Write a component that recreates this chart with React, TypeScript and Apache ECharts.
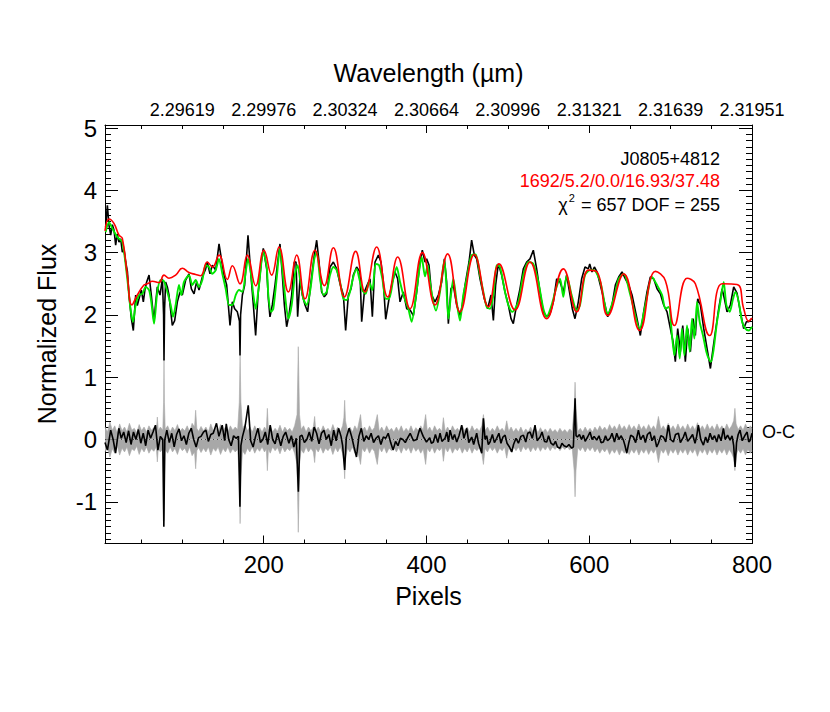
import React, { useEffect, useRef } from "react";
import * as echarts from "echarts";

const FONT = "'Liberation Sans', Arial, Helvetica, sans-serif";

// Axis tick labels
const pixelLabels = [200, 400, 600, 800];
const wavelengthPixels = [100, 200, 300, 400, 500, 600, 700, 800];
const wavelengthLabels = ["2.29619", "2.29976", "2.30324", "2.30664", "2.30996", "2.31321", "2.31639", "2.31951"];
const fluxLabels = [-1, 0, 1, 2, 3, 4, 5];

// Observed spectrum (black) [pixel, normalized flux]
const observed: [number, number][] = [
  [5.8, 3.41], [7.9, 3.76], [9.9, 3.44], [12, 3.28], [14, 3.45], [16.1, 3.36], [18.1, 3.12], [20, 3.3], [22.2, 3.17], [24.3, 3.22],
  [26.3, 3.01], [28.4, 3.05], [30.4, 2.85], [32.5, 2.7], [34.5, 2.32], [37.4, 1.94], [39.8, 1.75], [42.7, 2.32], [44.7, 2.15], [46.8, 2.26],
  [49.6, 2.4], [52.1, 2.21], [54, 2.4], [56.2, 2.53], [59.1, 2.64], [61.9, 2.32], [65.2, 1.89], [67.3, 2.2], [69.3, 2.45], [72.6, 2.32],
  [75.5, 2.58], [77, 2.0], [77.5, 1.27], [78.2, 2.1], [79.5, 2.53], [81.6, 2.45], [83.6, 2.32], [87.7, 1.83], [90.6, 1.91], [93.9, 2.21],
  [97.2, 2.37], [100, 2.32], [104.1, 2.56], [108.2, 2.66], [111.1, 2.42], [114.4, 2.34], [117.6, 2.53], [120.5, 2.4], [124.6, 2.61], [128.7, 2.74],
  [130.7, 2.85], [134, 2.66], [136.9, 2.8], [141, 2.72], [145.1, 3.14], [148, 2.9], [151.2, 2.64], [154.5, 2.48], [158.6, 1.83], [161.5, 2.21],
  [164.3, 2.1], [167.6, 2.05], [170.2, 1.9], [170.9, 1.35], [171.6, 2.0], [173.8, 2.32], [176.6, 2.48], [180.7, 3.28], [184, 2.69], [187.3, 2.16],
  [190.1, 1.67], [193, 2.32], [197.1, 2.85], [199.5, 3.07], [203.7, 2.74], [205.7, 2.26], [207.7, 1.97], [210.6, 2.16], [213.9, 2.48], [217.2, 2.85],
  [220, 3.14], [222.9, 2.64], [225.4, 2.16], [228.2, 1.81], [231.1, 2.0], [234.4, 2.32], [237.6, 2.85], [239.7, 2.85], [241.7, 1.97], [244.6, 2.58],
  [247.5, 2.32], [250.8, 2.16], [254, 2.05], [258.1, 2.53], [262.2, 2.96], [265.1, 3.2], [268, 2.85], [271.2, 2.37], [274.5, 2.29], [277.4, 2.34],
  [281.5, 2.77], [285.6, 2.85], [289.7, 2.74], [293.8, 2.5], [297.9, 2.32], [300.7, 1.75], [304, 2.32], [307.3, 2.42], [310.1, 2.64], [314.2, 2.77],
  [318.3, 2.69], [320.4, 1.89], [323.7, 2.37], [327.8, 2.5], [330.6, 2.58], [333.5, 1.97], [336.8, 2.85], [340.9, 2.96], [344.1, 2.85], [347, 2.53],
  [349.9, 1.93], [354, 2.26], [357.2, 2.48], [361.3, 2.69], [364.6, 2.58], [367.5, 2.21], [371.6, 2.37], [375.7, 2.1], [379.8, 2.08], [383.9, 1.99],
  [388, 2.37], [392.1, 2.85], [394.9, 3.04], [398.2, 2.85], [400.2, 2.9], [403.1, 2.8], [406.4, 2.32], [410.5, 2.21], [414.6, 2.32], [418.7, 2.53],
  [422, 2.9], [424.8, 2.53], [426.9, 1.86], [430.1, 2.42], [433, 2.48], [437.1, 2.16], [441.2, 1.99], [444.1, 2.16], [447.4, 2.48], [452.3, 2.85],
  [455.5, 3.2], [458.8, 2.96], [461.7, 2.9], [465.8, 2.58], [471.1, 2.26], [475.2, 2.1], [479.3, 2.32], [482.2, 1.91], [485, 2.48], [488.3, 2.82],
  [492.4, 2.64], [496.5, 2.37], [500.6, 2.16], [503.9, 1.94], [506.7, 1.86], [510.8, 2.16], [514.9, 2.42], [519, 2.74], [523.1, 2.85], [527.2, 2.9],
  [531.3, 3.04], [535.4, 2.74], [539.5, 2.37], [543.6, 2.05], [547.7, 1.97], [551.8, 2.02], [555.9, 2.21], [560, 2.58], [564.1, 2.53], [568.2, 2.37],
  [572.3, 2.64], [576.4, 2.32], [579.2, 2.1], [582.5, 1.94], [586.6, 2.21], [590.7, 2.58], [594.8, 2.77], [598.9, 2.74], [600.6, 2.82], [603.4, 2.69],
  [606.3, 2.77], [609.6, 2.69], [615.7, 2.37], [622.7, 1.97], [628, 2.16], [632.1, 2.48], [636.2, 2.61], [640.3, 2.69], [644.4, 2.58], [648.5, 2.48],
  [652.6, 2.32], [658.7, 1.94], [662.8, 1.67], [666.9, 2.05], [671, 2.37], [675.1, 2.61], [679.2, 2.58], [683.3, 2.42], [687.4, 2.34], [691.5, 2.16],
  [695.6, 2.05], [699.7, 1.78], [703, 1.57], [705.8, 1.25], [708.7, 1.78], [712, 1.41], [714.9, 1.83], [718.1, 1.25], [721, 1.78], [724.3, 1.41],
  [727.6, 1.94], [730.4, 1.67], [733.3, 2.26], [736.6, 2.16], [740.7, 1.78], [744.8, 1.46], [748.9, 1.14], [752.1, 1.46], [755, 1.73], [759.1, 2.1],
  [763.2, 2.42], [766.1, 2.26], [769.3, 2.05], [773.4, 2.16], [777.5, 2.45], [781.6, 2.35], [785.7, 2.05], [789.8, 1.78], [793.1, 1.89], [796, 1.89],
  [799.2, 1.94]
];

// Full model (green)
const modelGreen: [number, number][] = [
  [5.8, 3.33], [9.9, 3.49], [14, 3.39], [20.2, 3.25], [26.3, 3.17], [32.4, 2.58], [36.5, 2.08], [39.4, 1.89], [42.7, 2.16], [46.8, 2.32],
  [50.9, 2.34], [55, 2.45], [59.1, 2.4], [62, 2.2], [65.2, 1.86], [69.3, 2.37], [73.4, 2.56], [77.5, 2.54], [81.6, 2.37], [85.7, 2.16],
  [88.6, 1.97], [91.8, 2.16], [95.9, 2.48], [98.8, 2.32], [102.1, 2.53], [108.2, 2.64], [112.3, 2.48], [116.4, 2.56], [120.5, 2.45], [124.6, 2.56],
  [128.7, 2.8], [132.8, 2.77], [136.9, 2.66], [141, 2.72], [145.1, 2.9], [149.2, 2.66], [153.3, 2.42], [157.4, 2.16], [161.5, 2.16], [165.6, 2.32],
  [169.7, 2.4], [173.8, 2.37], [177.9, 2.69], [180.7, 2.9], [184, 2.69], [187.3, 2.32], [190.1, 2.1], [194.2, 2.48], [199.5, 3.01], [203.7, 2.77],
  [205.7, 2.32], [209, 2.05], [211.8, 2.1], [215.9, 2.58], [220, 3.07], [222.9, 2.74], [226.2, 2.32], [230.3, 1.94], [234.4, 2.16], [238.5, 2.66],
  [241.7, 2.8], [244.6, 2.58], [248.7, 2.26], [252.8, 2.16], [256.9, 2.37], [262.2, 2.9], [265.1, 3.01], [269.2, 2.58], [273.3, 2.32], [277.4, 2.37],
  [281.5, 2.64], [285.6, 2.77], [289.7, 2.72], [293.8, 2.53], [297.9, 2.26], [302, 2.24], [306, 2.37], [310.1, 2.61], [314.2, 2.74], [317.5, 2.58],
  [321.2, 2.4], [325.3, 2.34], [329.4, 2.53], [333.5, 2.4], [337.6, 2.82], [341.7, 2.8], [345.8, 2.58], [349.9, 2.26], [354, 2.26], [359.3, 2.58],
  [363.4, 2.77], [367.5, 2.53], [371.6, 2.32], [377.7, 2.1], [381.8, 1.89], [386.7, 2.26], [390.8, 2.69], [394.1, 2.93], [398.2, 2.62], [401.5, 2.8],
  [404.3, 2.53], [408.4, 2.21], [411.7, 2.07], [416.6, 2.37], [422, 2.88], [424, 2.58], [426.9, 1.94], [430.1, 2.32], [433, 2.58], [437.1, 2.21],
  [441.2, 1.91], [445.3, 2.32], [449.4, 2.58], [455.5, 2.96], [460.5, 2.97], [465.8, 2.64], [469.9, 2.37], [474, 2.13], [478.1, 2.1], [482.2, 2.32],
  [486.3, 2.8], [490.4, 2.77], [496.5, 2.37], [500.6, 2.16], [505.5, 2.05], [512.9, 2.21], [519, 2.64], [525.2, 2.85], [531.3, 2.82], [537.5, 2.53],
  [543.6, 2.1], [547.7, 1.97], [553.8, 2.16], [559.2, 2.42], [564.1, 2.58], [568.2, 2.29], [572.3, 2.64], [578.4, 2.32], [584.6, 2.07], [588.7, 2.16],
  [594.8, 2.64], [600.9, 2.72], [605.5, 2.72], [613.7, 2.53], [622.7, 2.02], [630.1, 2.26], [636.2, 2.58], [642.4, 2.66], [650.5, 2.32], [662, 1.78],
  [669, 2.16], [677.2, 2.61], [683.3, 2.48], [689.5, 2.32], [693.6, 2.1], [697.7, 2.13], [701.7, 1.67], [704.6, 1.35], [707.9, 1.67], [711.2, 1.3],
  [714, 1.78], [716.9, 1.35], [720.2, 1.83], [723.5, 1.41], [726.3, 1.94], [729.2, 1.62], [732.5, 2.21], [735.7, 1.89], [739.8, 1.67], [743.9, 1.41],
  [746.8, 1.3], [749.7, 1.25], [753, 1.46], [757, 1.89], [761.1, 2.21], [765.2, 2.53], [768.5, 2.16], [772.6, 2.05], [776.7, 2.26], [779.6, 2.37],
  [783.7, 2.21], [787.8, 1.89], [791.9, 1.78], [796, 1.75], [800, 1.81]
];

// Fit model (red)
const modelRed: [number, number][] = [
  [5, 3.35], [9.9, 3.54], [16, 3.47], [22.2, 3.28], [26.3, 3.23], [32.4, 2.64], [38, 2.16], [44.7, 2.32], [52.9, 2.48], [57, 2.5],
  [63.2, 2.54], [71.4, 2.52], [77.5, 2.64], [83.6, 2.59], [91.8, 2.64], [100, 2.75], [108.2, 2.68], [116.4, 2.65], [122.5, 2.63], [130.7, 2.85],
  [136.9, 2.77], [145.1, 2.96], [155.3, 2.57], [161.5, 2.79], [170.9, 2.5], [179.9, 2.96], [190.1, 2.47], [200.4, 3.04], [209.8, 2.64], [218.8, 3.09],
  [230.3, 2.37], [240.5, 2.96], [250.8, 2.26], [263, 3.04], [274.5, 2.47], [285.6, 3.08], [299.1, 2.29], [313, 3.02], [324.5, 2.37], [338.8, 3.09],
  [352.3, 2.29], [364.6, 2.93], [379.8, 2.1], [395, 3.0], [410.5, 2.16], [426, 2.98], [441.2, 2.05], [458.8, 2.97], [476, 2.13], [489.1, 2.82],
  [508.8, 2.08], [527.2, 2.85], [547.7, 1.94], [568.2, 2.74], [584.6, 2.05], [599, 2.72], [609.6, 2.69], [622.7, 1.99], [642.4, 2.66], [662, 1.75],
  [681.3, 2.7], [693.6, 2.55], [704.6, 1.83], [720.2, 2.59], [730.4, 2.5], [748, 1.67], [763.2, 2.5], [781.6, 2.49], [789.8, 2.1], [796, 1.9],
  [800, 1.95]
];

// Residual O-C (black)
const residual: [number, number][] = [
  [5, -0.05], [8, -0.17], [12, 0.15], [15, 0.0], [18, -0.22], [22, 0.18], [25, 0.02], [28, 0.12], [31, -0.05], [34, 0.14],
  [37, -0.08], [40, 0.12], [43, 0.0], [46, 0.16], [49, -0.06], [52, 0.1], [55, -0.1], [58, 0.15], [61, 0.02], [64, 0.12],
  [67, 0.23], [70, -0.17], [73, 0.05], [76, 0.0], [77.3, -1.4], [78.5, 0.0], [81, 0.15], [84, -0.05], [87, 0.1], [90, -0.12],
  [93, 0.08], [96, 0.17], [99, -0.02], [102, 0.06], [105, -0.08], [108, 0.1], [111, 0.18], [114, 0.0], [117, -0.12], [120, 0.03],
  [123, 0.05], [126, 0.12], [129, 0.15], [132, -0.03], [135, 0.08], [138, 0.1], [142, 0.26], [145, 0.05], [149, 0.23], [152, -0.02],
  [154, 0.25], [157, 0.0], [160, -0.1], [163, 0.06], [166, 0.02], [169, 0.05], [170.8, -1.08], [172, -0.1], [174, 0.05], [177, 0.2],
  [181, 0.55], [184, -0.02], [187, -0.12], [190, 0.05], [193, 0.18], [196, -0.05], [199, 0.0], [202, 0.12], [205, -0.08], [208, 0.23],
  [211, 0.0], [214, -0.07], [217, 0.1], [221, -0.1], [224, 0.05], [227, 0.12], [231, -0.06], [234, 0.06], [237, -0.12], [240, 0.02],
  [242.6, -0.84], [244.5, 0.05], [247, 0.07], [250, -0.05], [253, 0.0], [256, 0.12], [259, -0.03], [262, 0.2], [265, 0.1], [268, -0.07],
  [271, 0.1], [274, 0.15], [277, 0.0], [280, 0.08], [283, -0.1], [286, 0.15], [289, -0.02], [292, 0.18], [295, 0.05], [297, -0.1],
  [299.5, -0.49], [301.5, 0.03], [305, 0.18], [308, 0.05], [311, -0.12], [314, -0.28], [317, 0.05], [320, 0.18], [323, -0.03], [326, 0.06],
  [329, 0.0], [332, 0.1], [335, -0.05], [338, 0.02], [341, 0.06], [344, -0.08], [347, 0.04], [350, 0.02], [353, 0.1], [356, -0.05],
  [359, -0.17], [362, -0.03], [365, -0.1], [368, 0.02], [371, 0.0], [374, -0.05], [377, 0.03], [380, 0.1], [384, -0.02], [388, 0.0],
  [392, 0.18], [396, 0.05], [400, -0.04], [404, 0.03], [406, -0.06], [408.5, -0.04], [411, 0.08], [414, -0.05], [416.7, 0.1], [419, -0.03],
  [422.8, 0.02], [425, 0.12], [427, -0.04], [429, 0.15], [432, 0.0], [434.5, 0.08], [437.2, -0.04], [440, 0.06], [443.3, 0.23], [446, 0.02],
  [449.5, 0.18], [452, -0.05], [455.6, 0.04], [458, -0.08], [461.7, 0.1], [464, -0.06], [467.9, -0.22], [470, 0.34], [472, 0.0], [474, 0.06],
  [476, -0.08], [478.1, -0.04], [481, 0.08], [483.5, -0.05], [486.3, 0.02], [489, 0.1], [491.5, -0.06], [494, 0.04], [496.6, 0.07], [499, -0.06],
  [502, -0.12], [504.8, -0.2], [507, -0.08], [510, 0.02], [513, -0.06], [516, 0.05], [519.1, 0.07], [522, -0.04], [524.5, 0.1], [527.3, 0.12],
  [530, 0.02], [533.4, 0.23], [536, -0.02], [539.6, 0.04], [542, 0.12], [545, -0.03], [547.8, -0.04], [550, 0.06], [553, -0.06], [556, -0.09],
  [558.5, -0.03], [561, -0.12], [564.1, -0.14], [566.5, -0.06], [569, -0.1], [572.3, -0.12], [575, -0.08], [578.5, -0.14], [580.5, -0.12], [582.6, 0.66],
  [583.8, 0.06], [585.4, 0.04], [588, 0.08], [590.5, 0.0], [592.8, 0.07], [595, -0.03], [598, 0.04], [601, 0.12], [603.5, 0.0], [606, 0.05],
  [609.2, -0.01], [612, 0.06], [614.5, -0.05], [617.4, -0.04], [620, 0.06], [622.5, -0.02], [625.6, 0.02], [628, 0.1], [631, -0.04], [633.8, 0.1],
  [636.5, 0.0], [639, 0.06], [642, -0.01], [644, -0.1], [646.1, -0.22], [648.5, -0.06], [651, 0.07], [654.3, 0.04], [657, -0.05], [660.4, 0.15],
  [663, 0.0], [666.5, 0.07], [669, -0.05], [671.5, 0.08], [674.7, 0.12], [677, -0.02], [680, 0.06], [682.9, -0.12], [685, -0.06], [688, 0.06],
  [691.1, 0.04], [694, -0.04], [697.3, 0.23], [700, 0.0], [703.4, -0.04], [706, 0.08], [709.6, 0.1], [712, -0.05], [715.7, 0.04], [718, 0.12],
  [721, -0.03], [723.9, 0.02], [727, 0.08], [730, -0.06], [732, 0.05], [734.1, 0.23], [737, 0.0], [740.3, -0.09], [743, 0.04], [745.5, -0.05],
  [748.5, 0.1], [751, 0.0], [754, 0.06], [756.7, -0.04], [759, 0.08], [762, -0.02], [764.9, 0.18], [767, 0.0], [770, 0.07], [773, -0.01],
  [775.5, 0.06], [777.5, -0.1], [779.2, -0.44], [781, -0.05], [783, 0.08], [785.3, 0.15], [788, -0.02], [791.5, 0.07], [794, 0.12], [796, -0.04],
  [797.6, -0.02], [800, 0.1]
];

// Uncertainty envelope (grey), half-width
const sigma: [number, number][] = [
  [5, 0.2], [8, 0.12], [11, 0.28], [14, 0.15], [17, 0.22], [20, 0.1], [23, 0.25], [26, 0.14], [29, 0.2], [32, 0.12],
  [35, 0.26], [38, 0.15], [41, 0.18], [44, 0.11], [47, 0.24], [50, 0.14], [53, 0.2], [56, 0.12], [59, 0.22], [62, 0.15],
  [65, 0.19], [68, 0.12], [69.3, 0.36], [70.5, 0.14], [73, 0.2], [76, 0.15], [77, 0.6], [77.5, 1.3], [78, 0.6], [79, 0.16],
  [82, 0.22], [85, 0.12], [88, 0.2], [91, 0.14], [94, 0.24], [97, 0.12], [100, 0.18], [103, 0.14], [106, 0.22], [109, 0.12],
  [112, 0.26], [115, 0.2], [116.4, 0.47], [117.8, 0.18], [120, 0.13], [123, 0.21], [126, 0.14], [129, 0.2], [132, 0.12], [135, 0.25],
  [138, 0.14], [141, 0.19], [144, 0.12], [147, 0.24], [150, 0.14], [153, 0.2], [156, 0.12], [159, 0.22], [162, 0.15], [165, 0.2],
  [168, 0.16], [170, 0.6], [171, 1.35], [172, 0.6], [174, 0.18], [177, 0.24], [180, 0.14], [183, 0.2], [186, 0.12], [189, 0.22],
  [192, 0.14], [195, 0.19], [198, 0.12], [201, 0.2], [203.2, 0.15], [204.5, 0.5], [205.8, 0.15], [208, 0.22], [211, 0.12], [214, 0.18],
  [217, 0.13], [220, 0.23], [223, 0.12], [226, 0.2], [229, 0.14], [232, 0.18], [235, 0.12], [238, 0.22], [241, 0.4], [242.5, 1.49],
  [244, 0.4], [246, 0.16], [249, 0.22], [252, 0.12], [255, 0.2], [258, 0.14], [261, 0.2], [262.6, 0.37], [264, 0.14], [267, 0.2],
  [270, 0.12], [273, 0.22], [276, 0.14], [279, 0.18], [282, 0.12], [285, 0.24], [288, 0.13], [291, 0.2], [294, 0.12], [297, 0.22],
  [298.5, 0.35], [299.5, 0.63], [300.5, 0.3], [303, 0.14], [306, 0.2], [309, 0.12], [312, 0.22], [315, 0.15], [319, 0.4], [321, 0.14],
  [324, 0.2], [327, 0.12], [330, 0.22], [333, 0.14], [336, 0.19], [339.6, 0.4], [342, 0.13], [345, 0.2], [348, 0.12], [351, 0.22],
  [354, 0.14], [357, 0.18], [360, 0.12], [363, 0.2], [366, 0.13], [369, 0.22], [372, 0.12], [375, 0.18], [378, 0.13], [381, 0.22],
  [384, 0.12], [387, 0.19], [390, 0.14], [393, 0.22], [396, 0.15], [399, 0.4], [401, 0.14], [404, 0.2], [407, 0.12], [410, 0.22],
  [413, 0.14], [416, 0.18], [419, 0.13], [420.8, 0.35], [423, 0.13], [426, 0.2], [429, 0.12], [432, 0.22], [435, 0.14], [438, 0.18],
  [441, 0.12], [444, 0.22], [447, 0.14], [450, 0.2], [453, 0.12], [456, 0.22], [459, 0.14], [462, 0.18], [465, 0.13], [468, 0.22],
  [470, 0.4], [472, 0.14], [475, 0.2], [478, 0.12], [481, 0.18], [484, 0.13], [487, 0.22], [490, 0.14], [493, 0.18], [496, 0.12],
  [498.6, 0.3], [501, 0.13], [504, 0.2], [507, 0.12], [510, 0.18], [513, 0.12], [516, 0.2], [519, 0.11], [522, 0.17], [525, 0.12],
  [528, 0.2], [531, 0.12], [534, 0.18], [537, 0.11], [540, 0.19], [543, 0.12], [546, 0.17], [549, 0.11], [552, 0.18], [555, 0.12],
  [558, 0.16], [561, 0.11], [564, 0.18], [567, 0.12], [570, 0.16], [573, 0.11], [576, 0.17], [579, 0.13], [581.5, 0.5], [582.6, 0.92],
  [583.7, 0.5], [586, 0.13], [589, 0.18], [592, 0.12], [595, 0.2], [598, 0.13], [601, 0.18], [604, 0.12], [607, 0.2], [610, 0.14],
  [613, 0.22], [616, 0.15], [619, 0.2], [622, 0.14], [625, 0.24], [628, 0.16], [631, 0.22], [634, 0.15], [637, 0.25], [640, 0.16],
  [643, 0.22], [646, 0.15], [649, 0.24], [652, 0.16], [655, 0.22], [658, 0.15], [661, 0.25], [664, 0.16], [667, 0.22], [670, 0.15],
  [673, 0.24], [676, 0.16], [679, 0.22], [682, 0.15], [685, 0.37], [688, 0.16], [691, 0.22], [694, 0.15], [697, 0.26], [700, 0.16],
  [703, 0.22], [706, 0.15], [709, 0.25], [712, 0.16], [715, 0.22], [718, 0.15], [721, 0.25], [724, 0.16], [727, 0.22], [730, 0.15],
  [733, 0.27], [736, 0.16], [739, 0.22], [742, 0.15], [745, 0.25], [748, 0.16], [751, 0.22], [754, 0.15], [757, 0.25], [760, 0.16],
  [763, 0.22], [766, 0.15], [769, 0.25], [772, 0.16], [775, 0.22], [777.5, 0.3], [779, 0.5], [780.5, 0.25], [783, 0.16], [786, 0.22],
  [789, 0.15], [792, 0.25], [795, 0.16], [798, 0.22], [800, 0.18]
];

const X_MIN = 5;
const X_MAX = 800;
const Y_MIN = -1.67;
const Y_MAX = 5.05;

const minorX: number[] = [];
for (let v = 50; v <= 800; v += 50) if (v % 200 !== 0) minorX.push(v);
const minorY: number[] = [];
for (let i = -16; i <= 50; i++) if (i % 10 !== 0) minorY.push(i / 10);

function xAx(position: "top" | "bottom", ticks: number[], len: number, line: boolean, label: any) {
  return {
    type: "value",
    gridIndex: 0,
    position,
    min: X_MIN,
    max: X_MAX,
    axisLine: { show: line, onZero: false, lineStyle: { color: "#000", width: 1 } },
    axisTick: { show: true, inside: true, length: len, customValues: ticks, lineStyle: { color: "#000", width: 1 } },
    axisLabel: label,
    splitLine: { show: false },
  };
}
function yAx(position: "left" | "right", ticks: number[], len: number, line: boolean, label: any) {
  return {
    type: "value",
    gridIndex: 0,
    position,
    min: Y_MIN,
    max: Y_MAX,
    axisLine: { show: line, onZero: false, lineStyle: { color: "#000", width: 1 } },
    axisTick: { show: true, inside: true, length: len, customValues: ticks, lineStyle: { color: "#000", width: 1 } },
    axisLabel: label,
    splitLine: { show: false },
  };
}

export default function App() {
  const ref = useRef<HTMLDivElement>(null);
  useEffect(() => {
    if (!ref.current) return;
    const chart = echarts.init(ref.current, null, { renderer: "svg" });
    const option: any = {
      animation: false,
      backgroundColor: "#fff",
      grid: { left: 105, right: 78, top: 125, bottom: 168.5, containLabel: false },
      xAxis: [
        xAx("bottom", pixelLabels, 8, true, {
          show: true, customValues: pixelLabels, color: "#000", fontSize: 24, fontFamily: FONT, margin: 9,
        }),
        xAx("bottom", minorX, 4, false, { show: false }),
        xAx("top", pixelLabels, 8, true, {
          show: true, customValues: wavelengthPixels, color: "#000", fontSize: 18, fontFamily: FONT, margin: 6,
          formatter: (v: number) => {
            const i = wavelengthPixels.indexOf(Math.round(v));
            return i >= 0 ? wavelengthLabels[i] : "";
          },
        }),
        xAx("top", minorX, 4, false, { show: false }),
      ],
      yAxis: [
        yAx("left", fluxLabels, 13, true, {
          show: true, customValues: fluxLabels, color: "#000", fontSize: 24, fontFamily: FONT, margin: 8,
        }),
        yAx("left", minorY, 6, false, { show: false }),
        yAx("right", fluxLabels, 13, true, { show: false }),
        yAx("right", minorY, 6, false, { show: false }),
      ],
      series: [
        {
          type: "line", name: "sigma+", data: sigma.map(([p, s]) => [p, s]),
          showSymbol: false, symbol: "none", lineStyle: { width: 0.6, color: "#a8a8a8" },
          areaStyle: { color: "#a8a8a8", opacity: 1, origin: 0 }, z: 1,
        },
        {
          type: "line", name: "sigma-", data: sigma.map(([p, s]) => [p, -s]),
          showSymbol: false, symbol: "none", lineStyle: { width: 0.6, color: "#a8a8a8" },
          areaStyle: { color: "#a8a8a8", opacity: 1, origin: 0 }, z: 1,
        },
        {
          type: "line", name: "zero", data: [[X_MIN, 0], [X_MAX, 0]],
          showSymbol: false, symbol: "none", lineStyle: { width: 1, color: "#444", type: [1, 3] }, z: 2,
        },
        {
          type: "line", name: "O-C", data: residual,
          showSymbol: false, symbol: "none", lineStyle: { width: 1.6, color: "#000" }, z: 3,
        },
        {
          type: "line", name: "observed", data: observed,
          showSymbol: false, symbol: "none", lineStyle: { width: 1.6, color: "#000" }, z: 4,
        },
        {
          type: "line", name: "model", data: modelGreen, smooth: 0.25,
          showSymbol: false, symbol: "none", lineStyle: { width: 1.9, color: "#00e600" }, z: 5,
        },
        {
          type: "line", name: "fit", data: modelRed, smooth: 0.45,
          showSymbol: false, symbol: "none", lineStyle: { width: 1.6, color: "#ff0000" }, z: 6,
        },
      ],
      graphic: [
        {
          type: "text", x: 428.5, y: 73, silent: true,
          style: { text: "Wavelength (\u00b5m)", font: `25px ${FONT}`, fill: "#000", textAlign: "center", textVerticalAlign: "middle" },
        },
        {
          type: "text", x: 428.5, y: 596, silent: true,
          style: { text: "Pixels", font: `25px ${FONT}`, fill: "#000", textAlign: "center", textVerticalAlign: "middle" },
        },
        {
          type: "text", x: 47, y: 334, rotation: Math.PI / 2, silent: true,
          style: { text: "Normalized Flux", font: `25px ${FONT}`, fill: "#000", textAlign: "center", textVerticalAlign: "middle" },
        },
        {
          type: "text", x: 720, y: 159, silent: true,
          style: { text: "J0805+4812", font: `18px ${FONT}`, fill: "#000", textAlign: "right", textVerticalAlign: "middle" },
        },
        {
          type: "text", x: 720, y: 181, silent: true,
          style: { text: "1692/5.2/0.0/16.93/37.48", font: `18px ${FONT}`, fill: "#ff0000", textAlign: "right", textVerticalAlign: "middle" },
        },
        {
          type: "text", x: 720, y: 203, silent: true,
          style: {
            text: "{a|\u03c7}{s|2}{a| = 657 DOF = 255}",
            fill: "#000", textAlign: "right", textVerticalAlign: "middle",
            rich: {
              a: { fontSize: 18, fontFamily: FONT, fill: "#000", lineHeight: 22, verticalAlign: "bottom" },
              s: { fontSize: 11, fontFamily: FONT, fill: "#000", lineHeight: 22, verticalAlign: "top", padding: [0, 1, 0, 1] },
            },
          },
        },
        {
          type: "text", x: 762, y: 432, silent: true,
          style: { text: "O-C", font: `18px ${FONT}`, fill: "#000", textAlign: "left", textVerticalAlign: "middle" },
        },
      ],
    };
    chart.setOption(option);
    return () => chart.dispose();
  }, []);
  return (
    <div
      ref={ref}
      style={{ position: "absolute", left: 0, top: 0, width: 830, height: 712, background: "#fff" }}
    />
  );
}
